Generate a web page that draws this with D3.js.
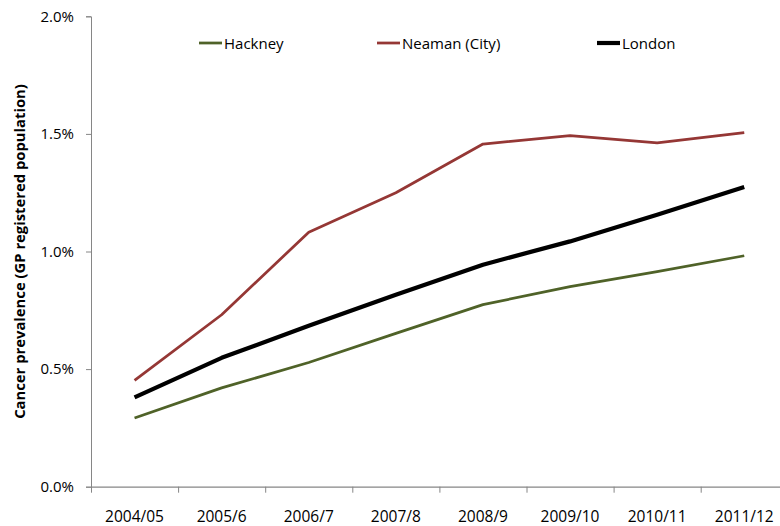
<!DOCTYPE html>
<html><head><meta charset="utf-8">
<script src="https://cdn.jsdelivr.net/npm/d3@7"></script>
<style>
html,body{margin:0;padding:0;background:#fff;overflow:hidden}
svg{display:block}
text{font-family:"Open Sans",sans-serif;fill:#000}
</style></head>
<body><svg id="c" width="780" height="526"></svg>
<script>
const categories = ["2004/05","2005/6","2006/7","2007/8","2008/9","2009/10","2010/11","2011/12"];
const hackney = [0.292,0.420,0.528,0.652,0.774,0.851,0.914,0.982];
const neaman  = [0.452,0.731,1.082,1.250,1.457,1.493,1.462,1.505];
const london  = [0.380,0.548,0.684,0.816,0.944,1.043,1.156,1.274];
const yTicks = [0,0.5,1.0,1.5,2.0];
const seriesNames = ["Hackney","Neaman (City)","London"];
const seriesColors = ["#4F6228","#953735","#000000"];
const seriesWidths = [2.75,2.75,4.2];

(function(){
const svg = d3.select("#c");
const mLeft = 91, mTop = 16.3, mBottom = 486.7, bandW = 87.1;
const mRight = mLeft + bandW * categories.length;

const x = d3.scaleBand().domain(categories).range([mLeft, mRight]).paddingInner(0).paddingOuter(0);
const xEdge = d3.scaleLinear().domain([0, categories.length]).range([mLeft, mRight]);
const y = d3.scaleLinear().domain([0, 2.0]).range([mBottom, mTop]);

// Y axis
const ya = svg.append("g").attr("transform",`translate(${mLeft},0)`)
  .call(d3.axisLeft(y).tickValues(yTicks).tickSize(5).tickPadding(12).tickFormat(d => d.toFixed(1) + "%"));
ya.select(".domain").attr("stroke","#868686").attr("stroke-width",1);
ya.selectAll(".tick line").attr("stroke","#868686");
ya.selectAll(".tick text").style("font-size","15px").attr("fill","#000");

// X axis (ticks at band edges)
const xa = svg.append("g").attr("transform",`translate(0,${mBottom})`)
  .call(d3.axisBottom(xEdge).tickValues(d3.range(categories.length)).tickSize(6).tickSizeOuter(0).tickFormat(""));
xa.select(".domain").attr("stroke","#868686").attr("stroke-width",1.2);
xa.selectAll(".tick line").attr("stroke","#868686");

svg.append("g").selectAll("text").data(categories).join("text")
  .attr("x", d => x(d) + x.bandwidth()/2)
  .attr("y", 522)
  .attr("text-anchor","middle")
  .style("font-size","15.5px")
  .text(d => d);

// Y title
svg.append("text")
  .attr("transform",`translate(25,${(mTop+mBottom)/2}) rotate(-90)`)
  .attr("text-anchor","middle")
  .style("font-size","14.8px").style("font-weight","bold")
  .text("Cancer prevalence (GP registered population)");

// Lines
const data = [hackney, neaman, london];
const line = d3.line().x((d,i) => x(categories[i]) + x.bandwidth()/2).y(d => y(d));
svg.append("g").selectAll("path").data(data).join("path")
  .attr("d", line)
  .attr("fill","none")
  .attr("stroke", (d,i) => seriesColors[i])
  .attr("stroke-width", (d,i) => seriesWidths[i])
  .attr("stroke-linejoin","round");

// Legend
const legX = [199, 377, 597];
const lg = svg.append("g").selectAll("g").data(seriesNames).join("g")
  .attr("transform", (d,i) => `translate(${legX[i]},43)`);
lg.append("line").attr("x1",0).attr("x2",23).attr("y1",0).attr("y2",0)
  .attr("stroke",(d,i)=>seriesColors[i]).attr("stroke-width",(d,i)=>seriesWidths[i]);
lg.append("text").attr("x",25).attr("y",5.5).style("font-size","15px").text(d=>d);
})();
</script></body></html>
